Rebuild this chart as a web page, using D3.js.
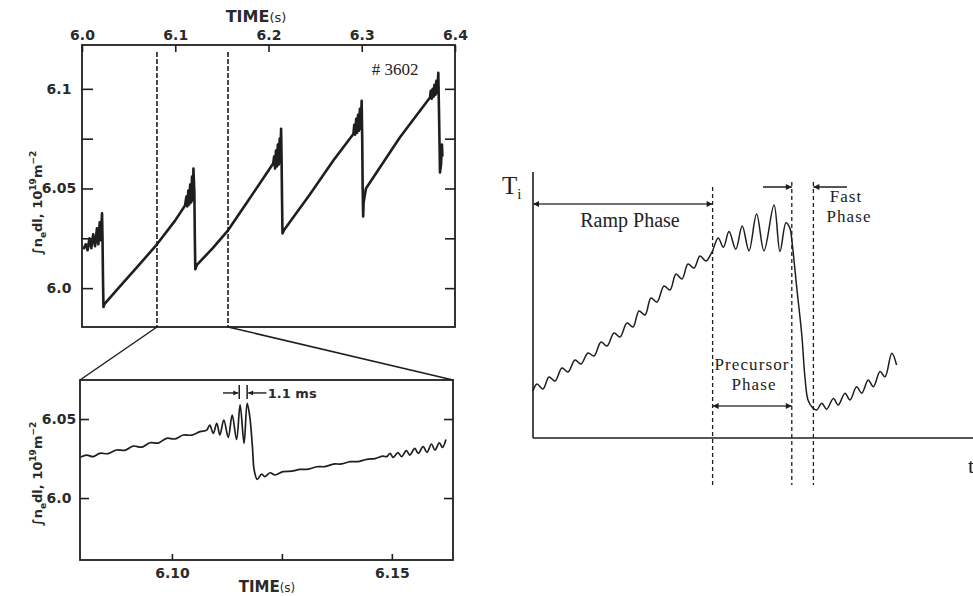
<!DOCTYPE html>
<html>
<head>
<meta charset="utf-8">
<script src="https://cdn.jsdelivr.net/npm/d3@7/dist/d3.min.js"></script>
<style>
  body { margin: 0; background: #fff; }
  .lab { font-family: "DejaVu Sans", sans-serif; font-weight: bold; font-size: 14px; fill: #2a2a2a; }
  .ser { font-family: "Liberation Serif", "DejaVu Serif", serif; fill: #222; }
</style>
</head>
<body>
<svg id="chart" width="973" height="596"></svg>
<script>
"use strict"

// shot #3602, line density vs time, full window
var topT = [6.0015, 6.004, 6.006, 6.008, 6.010, 6.012, 6.014, 6.016, 6.0175, 6.019, 6.020, 6.0215, 6.022, 6.0225, 6.023, 6.024,
    6.040, 6.060, 6.0804, 6.100,
    6.1105, 6.112, 6.113, 6.114, 6.115, 6.116, 6.117, 6.118, 6.119, 6.1195, 6.1205, 6.121, 6.1215, 6.123,
    6.140, 6.1566, 6.1783, 6.198,
    6.205, 6.206, 6.207, 6.208, 6.209, 6.210, 6.211, 6.212, 6.2125, 6.2135, 6.214, 6.2145, 6.215, 6.2165,
    6.2445, 6.2695,
    6.291, 6.292, 6.293, 6.294, 6.295, 6.296, 6.297, 6.298, 6.299, 6.2999, 6.3005, 6.301, 6.3015, 6.302, 6.3045,
    6.341,
    6.3732, 6.374, 6.375, 6.376, 6.377, 6.378, 6.379, 6.380, 6.381, 6.3821, 6.3828, 6.3835, 6.3839, 6.385, 6.386, 6.3865];
var topN = [6.0195, 6.022, 6.019, 6.025, 6.020, 6.027, 6.021, 6.030, 6.022, 6.033, 6.024, 6.0375, 6.025, 6.005, 5.9905, 5.992,
    6.0005, 6.011, 6.022, 6.034,
    6.0415, 6.046, 6.041, 6.049, 6.042, 6.052, 6.043, 6.056, 6.044, 6.060, 6.048, 6.025, 6.0095, 6.0115,
    6.020, 6.029, 6.044, 6.0576,
    6.0625, 6.066, 6.060, 6.069, 6.061, 6.072, 6.062, 6.075, 6.063, 6.080, 6.066, 6.045, 6.0275, 6.029,
    6.0471, 6.0640,
    6.0773, 6.082, 6.077, 6.085, 6.078, 6.087, 6.079, 6.090, 6.080, 6.094, 6.075, 6.050, 6.036, 6.043, 6.050,
    6.0757,
    6.0957, 6.099, 6.095, 6.100, 6.096, 6.102, 6.097, 6.104, 6.098, 6.108, 6.090, 6.070, 6.058, 6.062, 6.072, 6.066];

// expanded window around the first crash
var zoomT = [6.0793, 6.0806, 6.0821, 6.0836, 6.0855, 6.0874, 6.0893, 6.0912, 6.0931, 6.0950, 6.0969, 6.0988, 6.1007, 6.1026, 6.1045, 6.1064,
    6.1079, 6.1086, 6.1094, 6.1102, 6.1109, 6.1118, 6.1128, 6.1137, 6.1147, 6.1155, 6.1164, 6.1171, 6.1177, 6.1183, 6.1187,
    6.1194, 6.1204, 6.1211, 6.1223, 6.1234, 6.1253, 6.1272, 6.1291, 6.1310, 6.1329, 6.1348, 6.1367, 6.1386, 6.1405, 6.1424, 6.1443, 6.1462, 6.1480,
    6.1488, 6.1496, 6.1503, 6.1514, 6.1522, 6.1533, 6.1541, 6.1552, 6.1560, 6.1571, 6.1580, 6.1590, 6.1598, 6.1608, 6.1615, 6.1623];
var zoomN = [6.0259, 6.0272, 6.0262, 6.0283, 6.0281, 6.0304, 6.0302, 6.0329, 6.0322, 6.0350, 6.0348, 6.0378, 6.0374, 6.0399, 6.0398, 6.0420,
    6.0430, 6.0462, 6.0409, 6.0473, 6.0399, 6.0494, 6.0384, 6.0525, 6.0371, 6.0589, 6.0346, 6.0599, 6.0515, 6.0325, 6.0177,
    6.0118, 6.0152, 6.0135, 6.0160, 6.0146, 6.0167, 6.0170, 6.0181, 6.0183, 6.0198, 6.0199, 6.0215, 6.0216, 6.0230, 6.0231, 6.0245, 6.0250, 6.0265,
    6.0262, 6.0283, 6.0257, 6.0287, 6.0262, 6.0300, 6.0272, 6.0314, 6.0283, 6.0325, 6.0289, 6.0342, 6.0304, 6.0350, 6.0321, 6.0371];

// schematic T_i trace (arbitrary units)
var tiU = [0, 1, 2.5, 4, 5.5, 7.25, 8.75, 10.5, 12, 13.75, 15.25, 17, 18.5, 20.25, 21.75, 23.5, 25, 26.5, 28, 29.5, 31, 32.75, 34.25, 35.75, 37.25, 38.75, 40.25, 41.75, 43.25, 44.75,
    46.3, 47.6, 49, 50.7, 52.3, 54, 55.9, 57.75, 60.25, 61.75, 63.25, 64.25, 64.7,
    66, 67.2, 68, 68.75, 69.75, 70.9,
    72.2, 73.4, 75.1, 76.3, 78, 79.25, 80.9, 82.2, 83.8, 85.1, 86.75, 88, 89.7, 90.9];
var tiV = [11.75, 13.5, 12.25, 15.25, 14.25, 17.5, 16.5, 19.5, 18.5, 21.25, 20.5, 24, 23, 26.25, 25.25, 28.75, 27.75, 31.75, 30.75, 35, 34, 38, 37, 41, 39.75, 43.5, 42.5, 45.5, 44.25, 46.5,
    50, 47.7, 51.6, 47.2, 53, 46.8, 56, 46.8, 58.25, 46.6, 53.8, 52.4, 49.5,
    37, 25.75, 15, 9.5, 7.75, 7,
    8.7, 7.2, 9.9, 8.25, 11.2, 9.5, 12.8, 11.2, 14.5, 12.8, 16.6, 15.3, 21.2, 18.25];

var topXTicks = [6.0, 6.1, 6.2, 6.3, 6.4];
var topYTicks = [6.0, 6.025, 6.05, 6.075, 6.1];
var topYLabels = ["6.0", "", "6.05", "", "6.1"];
var zoomXTicks = [6.10, 6.125, 6.15];
var zoomXLabels = ["6.10", "", "6.15"];
var zoomYTicks = [6.0, 6.05];
var zoomYLabels = ["6.0", "6.05"];
var windowT = [6.0804, 6.1566];        // dashed lines marking the expanded window
var periodT = [6.1153, 6.1171];        // 1.1 ms marker
var phaseU = [44.9, 64.7, 70.1];       // ramp end, precursor end, fast end
var ink = "#1e1e1e";

var svg = d3.select("#chart");
svg.append("rect").attr("width", 973).attr("height", 596).attr("fill", "#fff");

var defs = svg.append("defs");
function marker(id, w, h) {
    defs.append("marker")
        .attr("id", id)
        .attr("viewBox", "0 0 10 10")
        .attr("refX", 10).attr("refY", 5)
        .attr("markerUnits", "userSpaceOnUse")
        .attr("markerWidth", w).attr("markerHeight", h)
        .attr("orient", "auto-start-reverse")
        .append("path").attr("d", "M0,0L10,5L0,10z").attr("fill", ink);
}
marker("arr", 10, 6);
marker("arrS", 7, 5);

// ---------- top panel ----------
var xTop = d3.scaleLinear().domain([6.0, 6.4]).range([82, 455]);
var yTop = d3.scaleLinear().domain([5.9805, 6.122]).range([327, 45]);
var gTop = svg.append("g");

gTop.append("g").attr("transform", "translate(0,45)")
    .call(d3.axisTop(xTop).tickValues(topXTicks).tickSize(-7).tickPadding(5).tickFormat(d3.format(".1f")));
gTop.append("g").attr("transform", "translate(82,0)")
    .call(d3.axisLeft(yTop).tickValues(topYTicks).tickSize(-11).tickFormat(function(d, i) { return topYLabels[i]; }))
    .selectAll("text").attr("x", -23).attr("text-anchor", "middle");
gTop.append("g").attr("transform", "translate(455,0)")
    .call(d3.axisRight(yTop).tickValues(topYTicks).tickSize(-10).tickFormat(""));

gTop.selectAll(".domain").remove();
gTop.selectAll(".tick line").attr("stroke", ink).attr("stroke-width", 1.6);
gTop.selectAll(".tick text").attr("class", "lab").attr("fill", ink);

gTop.append("rect")
    .attr("x", xTop(6.0)).attr("y", yTop(6.122))
    .attr("width", xTop(6.4) - xTop(6.0)).attr("height", yTop(5.9805) - yTop(6.122))
    .attr("fill", "none").attr("stroke", ink).attr("stroke-width", 1.8);

gTop.selectAll(".win").data(windowT).enter().append("line")
    .attr("x1", d => xTop(d)).attr("x2", d => xTop(d))
    .attr("y1", yTop(6.1185)).attr("y2", yTop(5.9805))
    .attr("stroke", ink).attr("stroke-width", 1.6).attr("stroke-dasharray", "5,2");

var topIdx = d3.range(topT.length);
gTop.append("path").datum(topIdx)
    .attr("d", d3.line().x(i => xTop(topT[i])).y(i => yTop(topN[i])))
    .attr("fill", "none").attr("stroke", ink).attr("stroke-width", 2.6).attr("stroke-linejoin", "round");

var tt = gTop.append("text").attr("class", "lab").style("font-size", "16px").attr("x", 256).attr("y", 22).attr("text-anchor", "middle");
tt.append("tspan").text("TIME");
tt.append("tspan").style("font-weight", "normal").style("font-size", "13px").text("(s)");

gTop.append("text").attr("class", "ser").attr("x", 395).attr("y", 75).attr("text-anchor", "middle")
    .style("font-size", "17px").attr("fill", "#333").text("# 3602");

function densityLabel(g, cx, cy) {
    var t = g.append("text").attr("class", "lab")
        .attr("transform", "translate(" + cx + "," + cy + ") rotate(-90)")
        .attr("text-anchor", "middle").style("font-size", "13px");
    t.append("tspan").text("\u222Bn");
    t.append("tspan").attr("dy", 4).style("font-size", "9px").text("e");
    t.append("tspan").attr("dy", -4).text("dl, 10");
    t.append("tspan").attr("dy", -6).style("font-size", "9px").text("19");
    t.append("tspan").attr("dy", 6).text("m");
    t.append("tspan").attr("dy", -6).style("font-size", "9px").text("\u22122");
}
densityLabel(gTop, 42, 203);

// ---------- bottom panel ----------
var xBot = d3.scaleLinear().domain([6.0791, 6.1639]).range([80, 453]);
var yBot = d3.scaleLinear().domain([5.9608, 6.0747]).range([560, 380]);
var gBot = svg.append("g");

gBot.append("g").attr("transform", "translate(0,560)")
    .call(d3.axisBottom(xBot).tickValues(zoomXTicks).tickSize(-6).tickPadding(8).tickFormat(function(d, i) { return zoomXLabels[i]; }));
gBot.append("g").attr("transform", "translate(80,0)")
    .call(d3.axisLeft(yBot).tickValues(zoomYTicks).tickSize(-9).tickFormat(function(d, i) { return zoomYLabels[i]; }))
    .selectAll("text").attr("x", -21).attr("text-anchor", "middle");
gBot.append("g").attr("transform", "translate(453,0)")
    .call(d3.axisRight(yBot).tickValues(zoomYTicks).tickSize(-9).tickFormat(""));

gBot.selectAll(".domain").remove();
gBot.selectAll(".tick line").attr("stroke", ink).attr("stroke-width", 1.6);
gBot.selectAll(".tick text").attr("class", "lab").attr("fill", ink);

gBot.append("rect")
    .attr("x", xBot(6.0791)).attr("y", yBot(6.0747))
    .attr("width", xBot(6.1639) - xBot(6.0791)).attr("height", yBot(5.9608) - yBot(6.0747))
    .attr("fill", "none").attr("stroke", ink).attr("stroke-width", 1.8);

// lines joining the window to the expanded frame
svg.append("line")
    .attr("x1", xTop(windowT[0])).attr("y1", yTop(5.9805)).attr("x2", xBot(6.0791)).attr("y2", yBot(6.0747))
    .attr("stroke", ink).attr("stroke-width", 1.5);
svg.append("line")
    .attr("x1", xTop(windowT[1])).attr("y1", yTop(5.9805)).attr("x2", xBot(6.1639)).attr("y2", yBot(6.0747))
    .attr("stroke", ink).attr("stroke-width", 1.5);

var zoomIdx = d3.range(zoomT.length);
gBot.append("path").datum(zoomIdx)
    .attr("d", d3.line().x(i => xBot(zoomT[i])).y(i => yBot(zoomN[i])).curve(d3.curveCatmullRom.alpha(0.5)))
    .attr("fill", "none").attr("stroke", ink).attr("stroke-width", 1.7).attr("stroke-linejoin", "round");

// 1.1 ms period marker
gBot.selectAll(".bar").data(periodT).enter().append("line")
    .attr("x1", d => xBot(d)).attr("x2", d => xBot(d))
    .attr("y1", yBot(6.0715)).attr("y2", yBot(6.0627))
    .attr("stroke", ink).attr("stroke-width", 1.5);
gBot.append("line")
    .attr("x1", xBot(6.1116)).attr("x2", xBot(periodT[0]) - 1).attr("y1", yBot(6.0665)).attr("y2", yBot(6.0665))
    .attr("stroke", ink).attr("stroke-width", 1.4).attr("marker-end", "url(#arrS)");
gBot.append("line")
    .attr("x1", xBot(6.1215)).attr("x2", xBot(periodT[1]) + 1).attr("y1", yBot(6.0665)).attr("y2", yBot(6.0665))
    .attr("stroke", ink).attr("stroke-width", 1.4).attr("marker-end", "url(#arrS)");
gBot.append("text").attr("class", "lab").style("font-size", "13px")
    .attr("x", xBot(6.1218)).attr("y", yBot(6.0665) + 5).text("1.1 ms");

var bt = gBot.append("text").attr("class", "lab").style("font-size", "15px").attr("x", 267).attr("y", 592).attr("text-anchor", "middle");
bt.append("tspan").text("TIME");
bt.append("tspan").style("font-weight", "normal").style("font-size", "12px").text("(s)");

densityLabel(gBot, 42, 474);

// ---------- right panel: T_i schematic ----------
var xTi = d3.scaleLinear().domain([0, 110]).range([533, 973]);
var yTi = d3.scaleLinear().domain([0, 66.5]).range([438, 172]);
var gTi = svg.append("g");

gTi.append("line").attr("x1", xTi(0)).attr("x2", xTi(0)).attr("y1", yTi(66.5)).attr("y2", yTi(0))
    .attr("stroke", ink).attr("stroke-width", 1.6);
gTi.append("line").attr("x1", xTi(0)).attr("x2", xTi(110)).attr("y1", yTi(0)).attr("y2", yTi(0))
    .attr("stroke", ink).attr("stroke-width", 1.6);

gTi.selectAll(".phase").data(phaseU).enter().append("line")
    .attr("x1", d => xTi(d)).attr("x2", d => xTi(d))
    .attr("y1", (d, i) => yTi(i === 0 ? 62.75 : 64)).attr("y2", yTi(-11.75))
    .attr("stroke", ink).attr("stroke-width", 1.3).attr("stroke-dasharray", "4,3");

var tiIdx = d3.range(tiU.length);
gTi.append("path").datum(tiIdx)
    .attr("d", d3.line().x(i => xTi(tiU[i])).y(i => yTi(tiV[i])).curve(d3.curveCatmullRom.alpha(0.5)))
    .attr("fill", "none").attr("stroke", ink).attr("stroke-width", 1.5);

// phase arrows
gTi.append("line").attr("x1", xTi(0)).attr("x2", xTi(phaseU[0])).attr("y1", yTi(58.5)).attr("y2", yTi(58.5))
    .attr("stroke", "#444").attr("stroke-width", 1.5).attr("marker-start", "url(#arr)").attr("marker-end", "url(#arr)");
gTi.append("line").attr("x1", xTi(phaseU[0])).attr("x2", xTi(phaseU[1])).attr("y1", yTi(8)).attr("y2", yTi(8))
    .attr("stroke", "#444").attr("stroke-width", 1.5).attr("marker-start", "url(#arr)").attr("marker-end", "url(#arr)");
gTi.append("line").attr("x1", xTi(57.5)).attr("x2", xTi(phaseU[1])).attr("y1", yTi(62.75)).attr("y2", yTi(62.75))
    .attr("stroke", ink).attr("stroke-width", 1.5).attr("marker-end", "url(#arr)");
gTi.append("line").attr("x1", xTi(78.5)).attr("x2", xTi(phaseU[2])).attr("y1", yTi(62.75)).attr("y2", yTi(62.75))
    .attr("stroke", ink).attr("stroke-width", 1.5).attr("marker-end", "url(#arr)");

gTi.append("text").attr("class", "ser").style("font-size", "20px").attr("text-anchor", "middle")
    .attr("x", 630).attr("y", 227).text("Ramp Phase");

// two-line phase labels, one text element each
function twoLine(lines, xs, y0, lh) {
    var t = gTi.append("text").attr("class", "ser").style("font-size", "17px")
        .style("letter-spacing", "1.1px").attr("text-anchor", "middle");
    lines.forEach(function(s, i) {
        t.append("tspan").attr("x", xs[i]).attr("y", y0 + i * lh).text(s);
    });
}
twoLine(["Fast", "Phase"], [846, 849], 202, 19.5);
twoLine(["Precursor", "Phase"], [752, 754], 370, 19.5);

var ti = gTi.append("text").attr("class", "ser").style("font-size", "25px").attr("x", 502).attr("y", 194);
ti.append("tspan").text("T");
ti.append("tspan").attr("dy", 5).style("font-size", "15px").text("i");

gTi.append("text").attr("class", "ser").style("font-size", "22px").attr("x", 968).attr("y", 473).text("t");
</script>
</body>
</html>
